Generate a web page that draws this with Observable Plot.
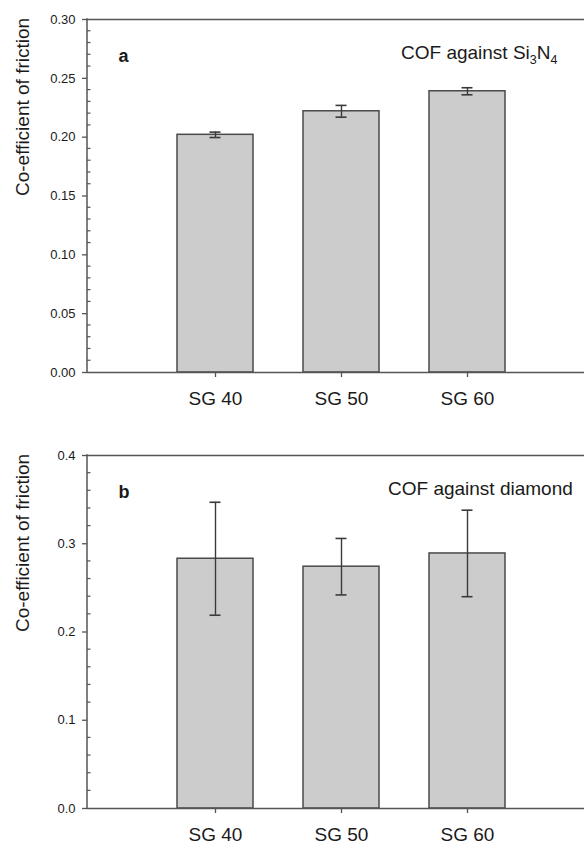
<!DOCTYPE html>
<html>
<head>
<meta charset="utf-8">
<script src="https://cdn.jsdelivr.net/npm/d3@7"></script>
<script src="https://cdn.jsdelivr.net/npm/@observablehq/plot@0.6"></script>
<style>
  body { margin: 0; background: #fff; }
  #chart { width: 584px; }
  #chart svg { display: block; }
</style>
</head>
<body>
<div id="chart"></div>
<script>
// Samples and measured coefficients of friction (mean ± standard deviation)
const samples = ["SG 40", "SG 50", "SG 60"];
const cofSi3N4 = [0.202, 0.222, 0.239];
const errSi3N4 = [0.0023, 0.005, 0.003];
const cofDiamond = [0.283, 0.274, 0.289];
const errDiamond = [0.064, 0.032, 0.049];
const ticksA = [0, 0.05, 0.10, 0.15, 0.20, 0.25, 0.30];
const ticksB = [0, 0.1, 0.2, 0.3, 0.4];
const yTitle = "Co-efficient of friction";

const FONT = "'Liberation Sans', Arial, Helvetica, sans-serif";
const AXIS = "#555";
const INK = "#1a1a1a";

function panel({values, errors, yMax, ticks, minorStep, format, height, marginTop, marginBottom, letter}) {
  const rows = samples.map((s, i) => ({
    sample: s, cof: values[i], lo: values[i] - errors[i], hi: values[i] + errors[i]
  }));
  const minor = d3.range(0, yMax + 1e-9, minorStep)
    .filter(v => !ticks.some(t => Math.abs(t - v) < 1e-9));

  // left spine plus the small inward minor ticks
  const spine = (index, scales, values, dims) => {
    const y = scales.y;
    const x0 = dims.marginLeft;
    const g = d3.create("svg:g").attr("stroke", AXIS).attr("stroke-width", 1.5);
    g.append("line").attr("x1", x0).attr("x2", x0).attr("y1", y(0) + 0.75).attr("y2", y(yMax) - 0.75);
    g.selectAll("line.minor").data(minor).join("line").attr("class", "minor")
      .attr("stroke-width", 1.2)
      .attr("x1", x0).attr("x2", x0 + 3.5).attr("y1", d => y(d)).attr("y2", d => y(d));
    return g.node();
  };

  return Plot.plot({
    width: 584,
    height,
    marginTop,
    marginBottom,
    marginLeft: 87,
    marginRight: 0,
    style: {fontFamily: FONT, background: "#fff", color: INK, overflow: "visible"},
    x: {domain: samples, range: [125.3, 556], padding: 0.4, label: null},
    y: {domain: [0, yMax], label: null},
    marks: [
      Plot.barY(rows, {x: "sample", y: "cof", fill: "#cccccc", stroke: "#4a4a4a", strokeWidth: 1.5}),
      Plot.ruleX(rows, {x: "sample", y1: "lo", y2: "hi", stroke: "#3a3a3a", strokeWidth: 1.4}),
      Plot.tickY(rows, {x: "sample", y: "lo", stroke: "#3a3a3a", strokeWidth: 1.6, insetLeft: 32.5, insetRight: 32.5}),
      Plot.tickY(rows, {x: "sample", y: "hi", stroke: "#3a3a3a", strokeWidth: 1.6, insetLeft: 32.5, insetRight: 32.5}),
      Plot.ruleY([0, yMax], {stroke: AXIS, strokeWidth: 1.5}),
      spine,
      Plot.axisY({ticks, tickFormat: format, tickSize: 5, tickPadding: 7, fontSize: 13, stroke: AXIS, strokeWidth: 1.3, label: null}),
      Plot.axisX({tickSize: 5, tickPadding: 14, fontSize: 19, stroke: AXIS, strokeWidth: 1.3, label: null}),
      Plot.text([yTitle], {frameAnchor: "left", text: d => d, rotate: -90, dx: -65, fontSize: 19, fill: INK}),
      Plot.text([letter], {frameAnchor: "top-left", text: d => d, textAnchor: "start", lineAnchor: "bottom",
        dx: 31, dy: 42.5, fontSize: 18, fontWeight: "bold", fill: INK})
    ]
  });
}

const chart = document.getElementById("chart");

const svgA = panel({
  values: cofSi3N4, errors: errSi3N4, yMax: 0.30, ticks: ticksA, minorStep: 0.01,
  format: d3.format(".2f"), height: 420, marginTop: 19, marginBottom: 48, letter: "a"
});
// counterface label with chemical subscripts
const labA = d3.select(svgA).append("text")
  .attr("x", 401).attr("y", 59).attr("text-anchor", "start")
  .attr("font-family", FONT).attr("font-size", 19).attr("fill", INK);
labA.append("tspan").text("COF against Si");
labA.append("tspan").attr("font-size", 12.5).attr("dy", 5).text("3");
labA.append("tspan").attr("dy", -5).text("N");
labA.append("tspan").attr("font-size", 12.5).attr("dy", 5).text("4");
chart.appendChild(svgA);

const svgB = panel({
  values: cofDiamond, errors: errDiamond, yMax: 0.4, ticks: ticksB, minorStep: 0.02,
  format: d3.format(".1f"), height: 424, marginTop: 35, marginBottom: 36, letter: "b"
});
d3.select(svgB).append("text")
  .attr("x", 388).attr("y", 75).attr("text-anchor", "start")
  .attr("font-family", FONT).attr("font-size", 19).attr("fill", INK)
  .text("COF against diamond");
chart.appendChild(svgB);
</script>
</body>
</html>
